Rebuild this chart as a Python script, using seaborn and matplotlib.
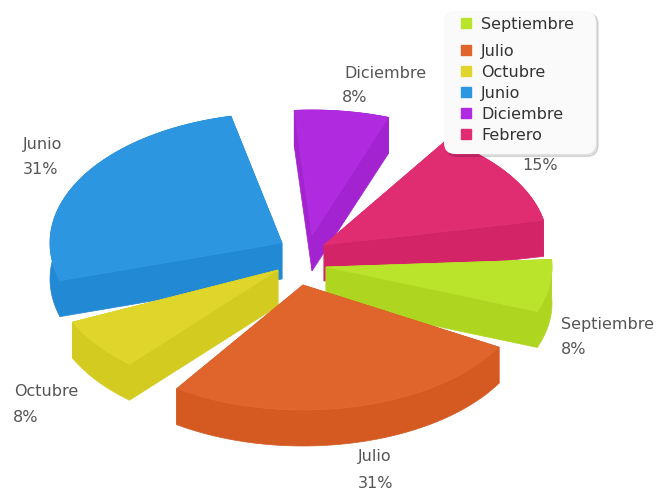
import numpy as np
import matplotlib
matplotlib.use('Agg')
import matplotlib.pyplot as plt
from matplotlib.lines import Line2D
import seaborn as sns

# orden de las porciones, en sentido horario desde arriba
meses = ['Diciembre', 'Febrero', 'Septiembre', 'Julio', 'Octubre', 'Junio']
valores = [8, 15, 8, 31, 8, 31]
etiquetas = ['8%', '15%', '8%', '31%', '8%', '31%']
orden_leyenda = ['Septiembre', 'Julio', 'Octubre', 'Junio', 'Diciembre', 'Febrero']

colores = sns.color_palette(['#b02ae0', '#e02d72', '#bae32b', '#e0652d', '#e0d62b', '#2d96e0'])
laterales = sns.color_palette(['#a223cf', '#d42468', '#aed621', '#d45a22', '#d4cb20', '#2289d4'])

# geometria de la proyeccion (pixeles)
cx, cy = 303, 255
prof = 36
inicio = -94.5
# radios, separacion angular tras cada porcion y desplazamiento de cada una
radios = [(226, 125), (224, 125), (226, 125), (226, 125), (226, 125), (232, 130)]
huecos = [13.3, 7.9, 9.0, 7.1, 7.8, 8.2]
explode = [(9, -20), (21, -10), (23, 12), (0, 30), (-25, 15), (-21, -12)]

sns.set_theme(style='white')
plt.rcParams['font.family'] = ['DejaVu Sans']

fig, ax = plt.subplots(figsize=(6.71, 4.96), dpi=100)
ax.set_position([0, 0, 1, 1])
ax.set_xlim(0, 671)
ax.set_ylim(496, 0)
ax.axis('off')

total = sum(valores)
barrido = 360 - sum(huecos)
porciones = {}
a0 = inicio
for mes, val, col, lat, hueco, (dx, dy), (rx, ry) in zip(meses, valores, colores, laterales, huecos, explode, radios):
    a1 = a0 + barrido * val / total
    ox = cx + dx
    oy = cy + dy
    t = np.radians(np.linspace(a0, a1, 60))
    porciones[mes] = (ox, oy, ox + rx * np.cos(t), oy + ry * np.sin(t), col, lat)
    a0 = a1 + hueco


def dibuja(mes, z):
    ox, oy, xs, ys, col, lat = porciones[mes]
    # paredes radiales
    for x, y in [(xs[0], ys[0]), (xs[-1], ys[-1])]:
        ax.fill([ox, x, x, ox], [oy, y, y + prof, oy + prof],
                color=lat, lw=0.5, zorder=z)
    # borde exterior
    ax.fill(np.r_[xs, xs[::-1]], np.r_[ys, ys[::-1] + prof],
            color=lat, lw=0.5, zorder=z + 0.1)
    # cara superior
    ax.fill(np.r_[ox, xs], np.r_[oy, ys], color=col, lw=0.5, zorder=z + 0.2)


# de atras hacia adelante
for i, mes in enumerate(['Diciembre', 'Febrero', 'Junio', 'Septiembre', 'Octubre', 'Julio']):
    dibuja(mes, 2 + i)

# etiquetas junto a cada porcion
pos_etiquetas = {
    'Diciembre': (344, 73, 342, 98),
    'Febrero': (522, 140, 522, 165),
    'Septiembre': (561, 324, 561, 350),
    'Julio': (358, 457, 358, 483),
    'Octubre': (14, 392, 13, 418),
    'Junio': (23, 144, 23, 170),
}
for mes, etq in zip(meses, etiquetas):
    x1, y1, x2, y2 = pos_etiquetas[mes]
    if mes != 'Febrero':
        ax.text(x1, y1, mes, fontsize=11.5, color='#555555', ha='left', va='center', zorder=20)
    ax.text(x2, y2, etq, fontsize=11.5, color='#555555', ha='left', va='center', zorder=20)

color_por_mes = dict(zip(meses, colores))
marcas = [Line2D([], [], marker='s', ls='', ms=7, color=color_por_mes[m]) for m in orden_leyenda]
leg = ax.legend(marcas, orden_leyenda, loc='upper left',
                bbox_to_anchor=(444 / 671, 1 - 11 / 496, 152 / 671, 0), mode='expand',
                borderaxespad=0, frameon=True, fancybox=True,
                shadow={'color': 'black', 'alpha': 0.12, 'ox': 1.5, 'oy': -1.5},
                fontsize=11.5, labelspacing=0.38, handlelength=1.3, handletextpad=0.3,
                borderpad=0.72, labelcolor='#333333',
                facecolor='#fafafa', edgecolor='none', framealpha=1)
leg.get_frame().set_boxstyle('round', pad=0, rounding_size=0.7)
leg.set_zorder(30)
# la primera fila queda algo mas separada
leg.get_texts()[0].set_y(5.4)
h0 = leg.legend_handles[0]
h0.set_ydata(np.asarray(h0.get_ydata()) + 3.9)

plt.savefig('out.png', dpi=100)
